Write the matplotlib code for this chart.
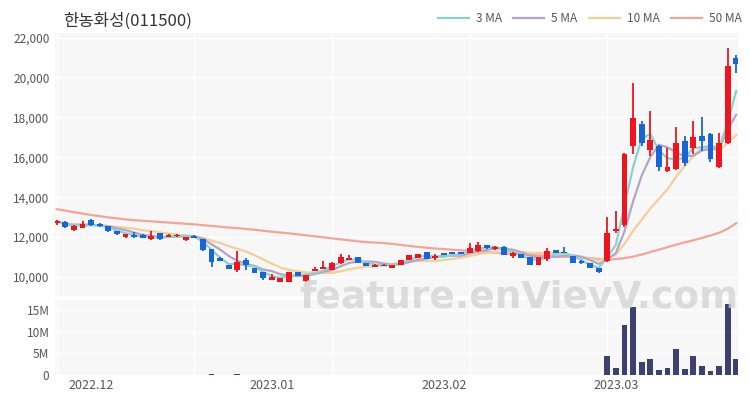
import matplotlib
matplotlib.use("Agg")
import matplotlib.pyplot as plt
from matplotlib.lines import Line2D
from matplotlib.ticker import FuncFormatter, FixedLocator
import numpy as np
import pandas as pd

plt.rcParams['font.family'] = ['Noto Sans CJK KR', 'DejaVu Sans']

title = "한농화성(011500)"

opens = [12700, 12750, 12350, 12450, 12850, 12650, 12550, 12300, 12000, 12100,
         12120, 11900, 12200, 12030, 12050, 11850, 12080, 11900, 11400, 10950,
         10600, 10350, 10850, 10450, 10250, 9850, 9750, 9750, 10250, 9800,
         10300, 10400, 10350, 10700, 10850, 11000, 10700, 10500, 10550, 10450,
         10600, 10850, 10950, 11250, 10950, 11200, 11250, 11250, 11200, 11300,
         11600, 11400, 11500, 11050, 11150, 11000, 10600, 10900, 11350, 11250,
         11050, 10800, 10700, 10450, 10800, 12300, 12600, 16550, 17650, 16350,
         16550, 15300, 15400, 16800, 16450, 17050, 17150, 15500, 16700, 21000]
highs = [12850, 12800, 12600, 12800, 12900, 12700, 12580, 12320, 12170, 12250,
         12150, 12300, 12230, 12150, 12150, 12030, 12100, 11920, 11420, 10980,
         10620, 11300, 10950, 10470, 10270, 10150, 9970, 10270, 10270, 10120,
         10480, 10800, 10750, 11150, 11100, 11020, 10720, 10630, 10650, 10620,
         10870, 11120, 11170, 11270, 11150, 11220, 11270, 11270, 11700, 11750,
         11620, 11550, 11550, 11230, 11170, 11020, 11020, 11450, 11370, 11500,
         11070, 10850, 10720, 10470, 13000, 13300, 16200, 19700, 17800, 18300,
         16600, 16450, 17500, 17050, 17800, 18000, 17200, 17200, 21500, 21150]
lows = [12600, 12450, 12330, 12450, 12580, 12500, 12280, 12130, 11980, 11980,
        11960, 11850, 11880, 12000, 12030, 11830, 11950, 11330, 10500, 10780,
        10380, 10250, 10350, 10180, 9850, 9830, 9730, 9730, 10030, 9750,
        10280, 10380, 10330, 10650, 10830, 10680, 10530, 10480, 10530, 10430,
        10580, 10830, 10930, 10880, 10850, 11080, 11130, 11130, 11180, 11280,
        11430, 11380, 11080, 10950, 10930, 10580, 10580, 10800, 11180, 11180,
        10680, 10650, 10430, 10200, 10750, 12200, 12500, 16150, 16550, 16050,
        15300, 15250, 15350, 15550, 16150, 16300, 15750, 15450, 16650, 20250]
closes = [12800, 12500, 12550, 12650, 12600, 12550, 12300, 12150, 12150, 12000,
          11980, 12050, 11900, 12100, 12120, 12000, 11980, 11350, 10750, 10800,
          10400, 10750, 10600, 10200, 9950, 10000, 9950, 10250, 10050, 10100,
          10400, 10500, 10700, 11000, 10950, 10700, 10550, 10600, 10600, 10600,
          10850, 11100, 11150, 10900, 11050, 11100, 11150, 11150, 11450, 11600,
          11450, 11500, 11100, 11200, 10950, 10600, 11000, 11300, 11200, 11200,
          10700, 10700, 10450, 10250, 12200, 12400, 16150, 17950, 16700, 16850,
          15500, 15500, 16700, 15700, 17000, 16800, 15900, 16700, 20600, 20700]
volumes = [60000, 50000, 40000, 40000, 60000, 40000, 50000, 40000, 30000, 40000,
           30000, 40000, 40000, 30000, 30000, 40000, 50000, 90000, 300000, 80000,
           60000, 280000, 70000, 50000, 60000, 50000, 40000, 50000, 40000, 40000,
           50000, 50000, 40000, 70000, 40000, 30000, 30000, 30000, 30000, 30000,
           40000, 40000, 30000, 40000, 30000, 30000, 30000, 30000, 50000, 40000,
           30000, 30000, 40000, 30000, 30000, 40000, 30000, 40000, 30000, 30000,
           30000, 30000, 30000, 40000, 4450000, 1600000, 11700000, 15800000, 3100000, 3700000,
           1100000, 1600000, 6100000, 1400000, 4300000, 2200000, 900000, 2100000, 16400000, 3800000]
ma50 = [13400, 13330, 13250, 13180, 13110, 13050, 12990, 12940, 12890, 12850,
        12820, 12790, 12760, 12730, 12700, 12670, 12640, 12600, 12560, 12520,
        12480, 12450, 12410, 12370, 12320, 12270, 12230, 12190, 12140, 12090,
        12040, 11990, 11940, 11890, 11840, 11790, 11750, 11730, 11700, 11660,
        11610, 11560, 11510, 11470, 11430, 11400, 11370, 11340, 11310, 11280,
        11250, 11220, 11190, 11160, 11140, 11110, 11090, 11060, 11040, 11020,
        11000, 10980, 10950, 10900, 10860, 10900, 10950, 11020, 11130, 11250,
        11370, 11500, 11620, 11740, 11840, 11960, 12080, 12220, 12420, 12700]

month_tick_idx = [4, 25, 45, 65]
month_tick_labels = ["2022.12", "2023.01", "2023.02", "2023.03"]

ma_labels = ["3 MA", "5 MA", "10 MA", "50 MA"]
ma_colors = ["#86d3cb", "#b7a3c9", "#f4cf98", "#f3a596"]

up_color = "#f0141e"
down_color = "#1865d8"
vol_color = "#3e4170"
bg = "#f7f7f7"

n = len(closes)
x = np.arange(n)
cs = pd.Series(closes, dtype=float)
ma3 = cs.rolling(3, min_periods=1).mean()
ma5 = cs.rolling(5, min_periods=1).mean()
ma10 = cs.rolling(10, min_periods=1).mean()

fig = plt.figure(figsize=(7.5, 4), dpi=100)
ax = fig.add_axes([55/750, 1-296/400, 683/750, 263/400])
axv = fig.add_axes([55/750, 1-376/400, 683/750, 76/400], sharex=ax)

for a in (ax, axv):
    a.set_facecolor(bg)
    for s in a.spines.values():
        s.set_visible(False)
    a.tick_params(length=0, colors="#555555", labelsize=8.5)
    a.set_axisbelow(True)

for a in (ax, axv):
    for gi in [0, 16, 32, 48, 64]:
        a.axvline(gi, color="white", lw=1, zorder=0.5)

ax.grid(axis='y', color="white", lw=1)
axv.grid(axis='y', color="white", lw=1)

ax.plot(x, ma50, color=ma_colors[3], lw=1.6, zorder=2)
ax.plot(x, ma10, color=ma_colors[2], lw=1.6, zorder=2)
ax.plot(x, ma5, color=ma_colors[1], lw=1.6, zorder=2)
ax.plot(x, ma3, color=ma_colors[0], lw=1.6, zorder=2)

w = 0.68
for i in range(n):
    o, h, l, c = opens[i], highs[i], lows[i], closes[i]
    col = up_color if c >= o else down_color
    ax.vlines(i, l, h, color=col, lw=1.3, zorder=3)
    bottom = min(o, c)
    height = max(abs(c - o), 40)
    ax.bar(i, height, bottom=bottom, width=w, color=col, zorder=3, linewidth=0)

ax.set_ylim(9050, 22230)
ax.yaxis.set_major_locator(FixedLocator([10000, 12000, 14000, 16000, 18000, 20000, 22000]))
ax.yaxis.set_major_formatter(FuncFormatter(lambda v, p: f"{int(v):,}"))
ax.set_xlim(-0.2, 79.2)
plt.setp(ax.get_xticklabels(), visible=False)
ax.tick_params(axis='y', pad=4)

axv.bar(x, volumes, width=w, color=vol_color, zorder=3, linewidth=0)
axv.set_ylim(-0.23e6, 17.4e6)
axv.yaxis.set_major_locator(FixedLocator([0, 5e6, 10e6, 15e6]))
axv.yaxis.set_major_formatter(FuncFormatter(lambda v, p: "0" if v == 0 else f"{int(v/1e6)}M"))
axv.set_xticks(month_tick_idx)
axv.set_xticklabels(month_tick_labels)
axv.tick_params(axis='x', pad=2, labelsize=9)
axv.tick_params(axis='y', pad=4)

fig.text(63/750, 1-21/400, title, fontsize=12, color="#333333", va='center', ha='left')

handles = [Line2D([0], [0], color=c, lw=1.6) for c in ma_colors]
fig.legend(handles, ma_labels, loc='upper right', bbox_to_anchor=(742/750, 1-12/400),
           ncol=4, frameon=False, fontsize=8.5, handlelength=2.6, handletextpad=0.6,
           columnspacing=1.0, labelcolor="#555555", borderaxespad=0, borderpad=0)

fig.text(519/750, 1-297/400, "feature.enVievV.com", fontsize=27, color="#d2d2d2",
         alpha=0.75, ha='center', va='center', family='DejaVu Sans',
         fontweight='bold', zorder=10)

fig.savefig("out.png", dpi=100)
